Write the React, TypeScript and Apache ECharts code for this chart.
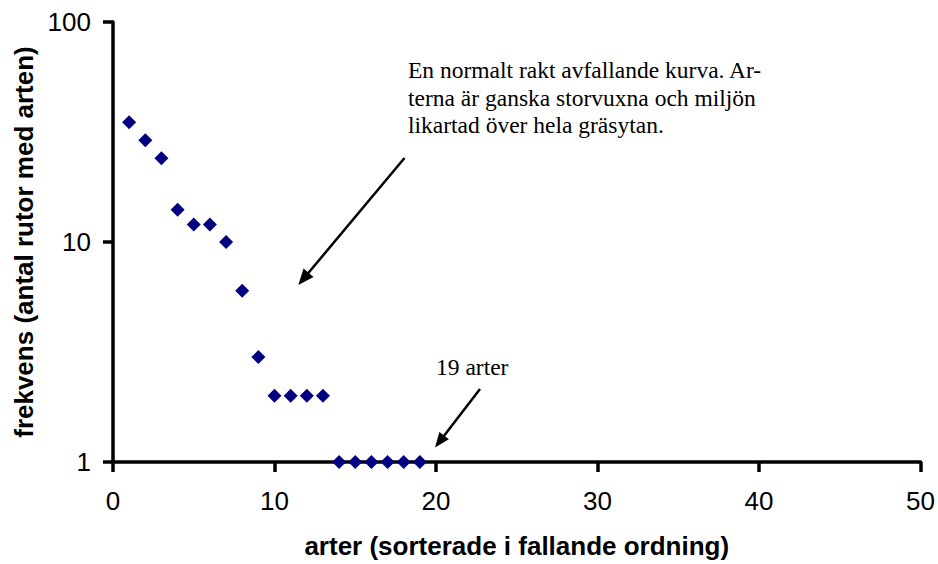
import React, { useEffect, useRef } from "react";
import * as echarts from "echarts";

const speciesRank = [1, 2, 3, 4, 5, 6, 7, 8, 9, 10, 11, 12, 13, 14, 15, 16, 17, 18, 19];
const frequencies = [35, 29, 24, 14, 12, 12, 10, 6, 3, 2, 2, 2, 2, 1, 1, 1, 1, 1, 1];
const xTicks = [0, 10, 20, 30, 40, 50];
const yTicks = [1, 10, 100];
const noteMain = [
  "En normalt rakt avfallande kurva. Ar-",
  "terna är ganska storvuxna och miljön",
  "likartad över hela gräsytan.",
];
const noteCount = "19 arter";

function arrow(x1: number, y1: number, x2: number, y2: number, headLen = 16, headHalf = 6.5) {
  const dx = x2 - x1;
  const dy = y2 - y1;
  const len = Math.sqrt(dx * dx + dy * dy);
  const ux = dx / len;
  const uy = dy / len;
  const bx = x2 - ux * headLen;
  const by = y2 - uy * headLen;
  const nx = -uy;
  const ny = ux;
  return [
    {
      type: "line",
      shape: { x1, y1, x2: bx + ux * 2, y2: by + uy * 2 },
      style: { stroke: "#000", lineWidth: 2.5 },
    },
    {
      type: "polygon",
      shape: {
        points: [
          [x2, y2],
          [bx + nx * headHalf, by + ny * headHalf],
          [bx - nx * headHalf, by - ny * headHalf],
        ],
      },
      style: { fill: "#000" },
    },
  ];
}

export default function App() {
  const ref = useRef<HTMLDivElement>(null);
  useEffect(() => {
    if (!ref.current) return;
    const chart = echarts.init(ref.current, undefined, { renderer: "svg" });
    const serif = "'Liberation Serif', 'Times New Roman', serif";
    const sans = "'Liberation Sans', Arial, sans-serif";
    const lineH = 27.5;
    chart.setOption({
      animation: false,
      backgroundColor: "#fff",
      grid: { left: 113, right: 17, top: 22, bottom: 96 },
      xAxis: {
        type: "value",
        min: xTicks[0],
        max: xTicks[xTicks.length - 1],
        interval: 10,
        name: "arter (sorterade i fallande ordning)",
        nameLocation: "middle",
        nameGap: 71,
        nameTextStyle: { fontFamily: sans, fontSize: 26, fontWeight: "bold", color: "#000" },
        axisLine: { show: true, lineStyle: { color: "#000", width: 3.5 } },
        axisTick: { show: true, inside: false, length: 10, lineStyle: { color: "#000", width: 3.5 } },
        axisLabel: { margin: 26, fontFamily: sans, fontSize: 26, color: "#000" },
        splitLine: { show: false },
      },
      yAxis: {
        type: "log",
        logBase: 10,
        min: yTicks[0],
        max: yTicks[yTicks.length - 1],
        name: "frekvens (antal rutor med arten)",
        nameLocation: "middle",
        nameGap: 75,
        nameTextStyle: { fontFamily: sans, fontSize: 26, fontWeight: "bold", color: "#000" },
        axisLine: { show: true, lineStyle: { color: "#000", width: 3.5 } },
        axisTick: { show: true, inside: false, length: 10, lineStyle: { color: "#000", width: 3.5 } },
        minorTick: { show: false },
        axisLabel: { margin: 22, fontFamily: sans, fontSize: 26, color: "#000" },
        splitLine: { show: false },
      },
      series: [
        {
          type: "scatter",
          data: speciesRank.map((x, i) => [x, frequencies[i]]),
          symbol: "diamond",
          symbolSize: 14,
          clip: false,
          itemStyle: { color: "#000080", opacity: 1 },
        },
      ],
      graphic: [
        ...noteMain.map((t, i) => ({
          type: "text",
          x: 408,
          y: 70 + i * lineH,
          style: {
            text: t,
            font: `23.5px ${serif}`,
            fill: "#000",
            textAlign: "left",
            textVerticalAlign: "middle",
          },
        })),
        {
          type: "text",
          x: 436,
          y: 367,
          style: {
            text: noteCount,
            font: `23.5px ${serif}`,
            fill: "#000",
            textAlign: "left",
            textVerticalAlign: "middle",
          },
        },
        ...arrow(404.5, 158, 298.3, 285),
        ...arrow(480, 389, 435, 447.5, 15, 6),
      ],
    });
    return () => chart.dispose();
  }, []);
  return <div ref={ref} style={{ width: 938, height: 564, position: "absolute", left: 0, top: 0 }} />;
}
